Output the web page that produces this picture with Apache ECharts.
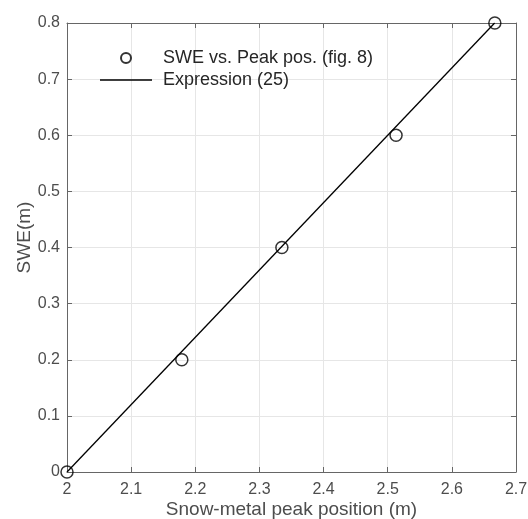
<!DOCTYPE html>
<html>
<head>
<meta charset="utf-8">
<script src="https://cdn.jsdelivr.net/npm/echarts@6/dist/echarts.min.js"></script>
<style>html,body{margin:0;padding:0;background:#fff}#c{width:528px;height:519px}</style>
</head>
<body>
<div id="c"></div>
<script>
// Data
const peakPos = [2.0, 2.179, 2.335, 2.513, 2.667];
const swe = [0, 0.2, 0.4, 0.6, 0.8];
const exprX = [2.0, 2.6667];
const exprY = [0, 0.8];
const seriesNames = ['SWE vs. Peak pos. (fig. 8)', 'Expression (25)'];
const xTitle = 'Snow-metal peak position (m)';
const yTitle = 'SWE(m)';

const FONT = "'Liberation Sans', Arial, Helvetica, sans-serif";
const AX = '#666666';
const TXT = '#4d4d4d';
const chart = echarts.init(document.getElementById('c'), null, {renderer: 'canvas'});

const baseAxis = {
  type: 'value',
  axisLine: {show: true, onZero: false, lineStyle: {color: AX, width: 1}},
  axisTick: {show: true, inside: true, length: 5, lineStyle: {color: AX, width: 1}},
  splitLine: {show: false},
  axisLabel: {show: false}
};

chart.setOption({
  animation: false,
  backgroundColor: '#fff',
  grid: {left: 67, right: 12, top: 23, bottom: 47, containLabel: false, outerBoundsMode: 'none'},
  legend: {
    orient: 'vertical',
    left: 100,
    top: 47,
    itemWidth: 52,
    itemHeight: 10,
    itemGap: 0,
    padding: 0,
    symbolKeepAspect: true,
    data: [
      {name: seriesNames[0]},
      {name: seriesNames[1], icon: 'path://M0,0H200V5H0Z', itemStyle: {color: '#000'}}
    ],
    textStyle: {fontFamily: FONT, fontSize: 18, color: '#262626', lineHeight: 22, padding: [0, 0, 0, 6]}
  },
  xAxis: [
    Object.assign({}, baseAxis, {
      position: 'bottom', min: 2, max: 2.7, interval: 0.1,
      splitLine: {show: true, lineStyle: {color: '#e6e6e6', width: 1}},
      axisLabel: {show: true, margin: 10, color: TXT, fontFamily: FONT, fontSize: 16},
      name: xTitle, nameLocation: 'middle', nameGap: 28, nameMoveOverlap: false,
      nameTextStyle: {fontFamily: FONT, fontSize: 19, color: TXT}
    }),
    Object.assign({}, baseAxis, {position: 'top', min: 2, max: 2.7, interval: 0.1})
  ],
  yAxis: [
    Object.assign({}, baseAxis, {
      position: 'left', min: 0, max: 0.8, interval: 0.1,
      splitLine: {show: true, lineStyle: {color: '#e6e6e6', width: 1}},
      axisLabel: {show: true, margin: 7, color: TXT, fontFamily: FONT, fontSize: 16},
      name: yTitle, nameLocation: 'middle', nameGap: 33, nameRotate: 90, nameMoveOverlap: false,
      nameTextStyle: {fontFamily: FONT, fontSize: 19, color: TXT, padding: [0, 0, 0, 20]}
    }),
    Object.assign({}, baseAxis, {position: 'right', min: 0, max: 0.8, interval: 0.1})
  ],
  series: [
    {
      name: seriesNames[1],
      type: 'line',
      xAxisIndex: 0, yAxisIndex: 0,
      data: exprX.map((x, i) => [x, exprY[i]]),
      symbol: 'none',
      lineStyle: {color: '#000', width: 1.3},
      itemStyle: {color: '#000'},
      z: 2
    },
    {
      name: seriesNames[0],
      type: 'scatter',
      xAxisIndex: 0, yAxisIndex: 0,
      data: peakPos.map((x, i) => [x, swe[i]]),
      symbol: 'circle',
      symbolSize: 12,
      clip: false,
      itemStyle: {color: 'rgba(0,0,0,0)', borderColor: '#000', borderWidth: 1.5},
      z: 3
    }
  ]
});
</script>
</body>
</html>
